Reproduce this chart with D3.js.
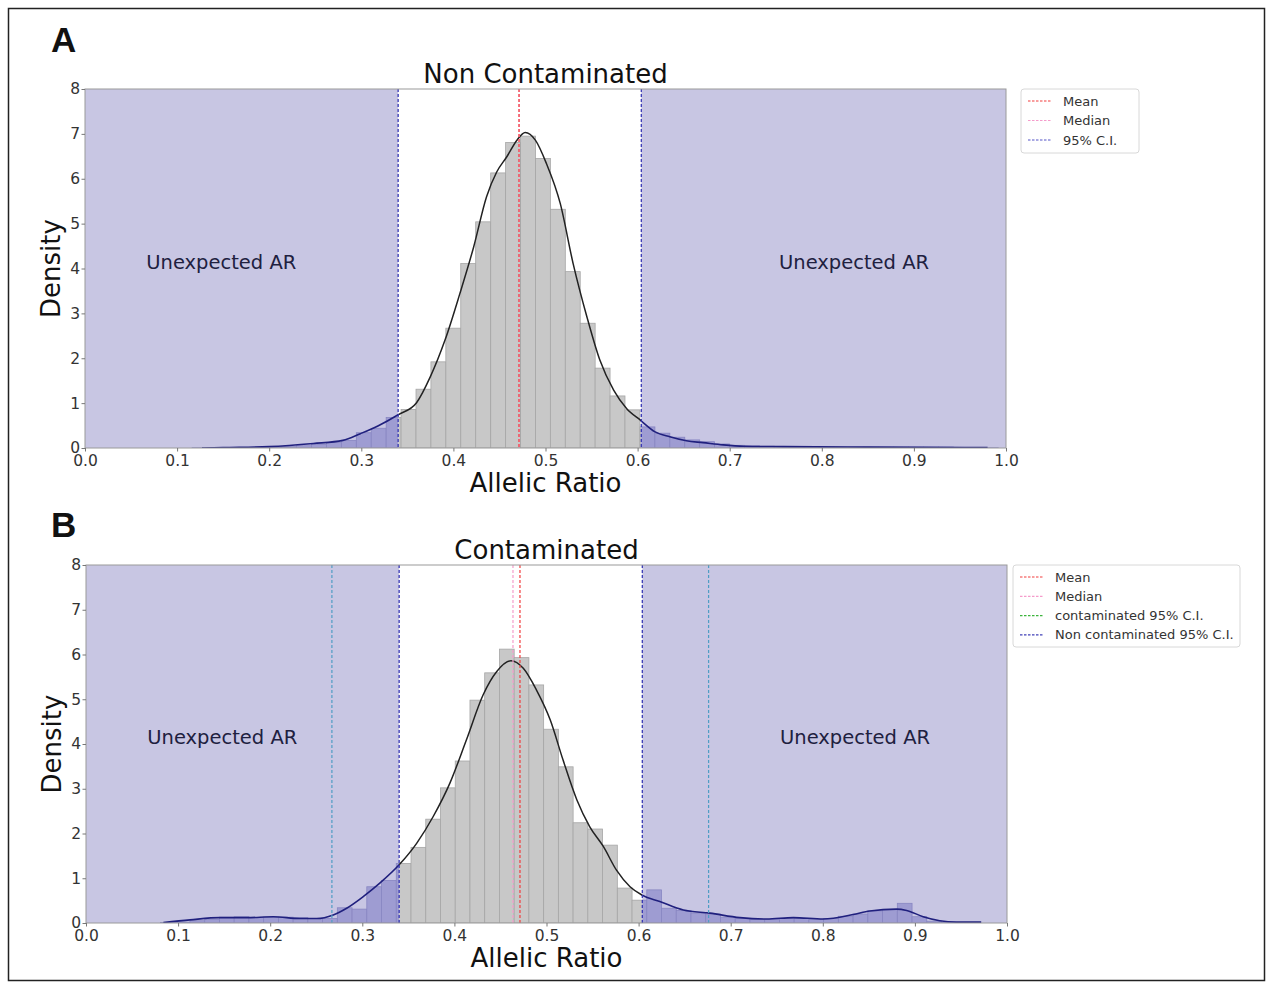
<!DOCTYPE html>
<html>
<head>
<meta charset="utf-8">
<script src="https://cdn.jsdelivr.net/npm/d3@7"></script>
<style>
  body { margin: 0; background: #fff; }
  text { font-family: "DejaVu Sans", sans-serif; }
</style>
</head>
<body>
<svg id="chart"></svg>
<script>
// ---- data ----
var xTicks = [0, 0.1, 0.2, 0.3, 0.4, 0.5, 0.6, 0.7, 0.8, 0.9, 1.0];
var yTicks = [0, 1, 2, 3, 4, 5, 6, 7, 8];

// panel A: non contaminated
var binWidthA = 0.0162;
var binLeftA = [0.1163, 0.1325, 0.1487, 0.1649, 0.1811, 0.1973, 0.2135, 0.2297, 0.2459, 0.2621,
  0.2784, 0.2946, 0.3108, 0.3270, 0.3432, 0.3594, 0.3756, 0.3918, 0.4080, 0.4242,
  0.4405, 0.4567, 0.4729, 0.4891, 0.5053, 0.5215, 0.5377, 0.5539, 0.5701, 0.5863,
  0.6026, 0.6188, 0.6350, 0.6512, 0.6674, 0.6836, 0.6998, 0.7160, 0.7322, 0.7484,
  0.7647, 0.7809, 0.7971, 0.8133, 0.8295, 0.8457, 0.8619, 0.8781, 0.8943, 0.9105,
  0.9268, 0.9430, 0.9592, 0.9754];
var binHeightA = [0.005, 0.008, 0.01, 0.01, 0.015, 0.02, 0.03, 0.05, 0.08, 0.12,
  0.17, 0.34, 0.44, 0.68, 0.86, 1.31, 1.92, 2.67, 4.11, 5.04,
  6.13, 6.81, 6.95, 6.45, 5.32, 3.93, 2.78, 1.78, 1.16, 0.85,
  0.47, 0.33, 0.24, 0.18, 0.14, 0.09, 0.06, 0.05, 0.04, 0.03,
  0.03, 0.03, 0.02, 0.02, 0.02, 0.02, 0.02, 0.02, 0.02, 0.02,
  0.02, 0.01, 0.01, 0.005];
var kdeXA = [0.127, 0.15, 0.2, 0.248, 0.28, 0.299, 0.318, 0.34, 0.36, 0.375, 0.391, 0.407, 0.422,
  0.436, 0.447, 0.458, 0.469, 0.478, 0.489, 0.501, 0.516, 0.53, 0.545, 0.559, 0.574, 0.588,
  0.603, 0.619, 0.635, 0.653, 0.671, 0.693, 0.715, 0.758, 0.85, 0.98];
var kdeYA = [0, 0.01, 0.03, 0.1, 0.17, 0.32, 0.49, 0.74, 1.01, 1.59, 2.41, 3.44, 4.48,
  5.6, 6.15, 6.49, 6.86, 7.03, 6.86, 6.34, 5.45, 4.11, 2.92, 1.96, 1.29, 0.88,
  0.62, 0.36, 0.25, 0.16, 0.12, 0.07, 0.04, 0.03, 0.02, 0.01];
var ciA = [0.34, 0.604];
var meanA = 0.4712;
var medianA = 0.4715;

// panel B: contaminated
var binWidthB = 0.016;
var binLeftB = [0.0809, 0.0969, 0.1129, 0.1289, 0.1449, 0.1609, 0.1769, 0.1929, 0.2089, 0.2249,
  0.2409, 0.2569, 0.2729, 0.2889, 0.3049, 0.3209, 0.3369, 0.3529, 0.3689, 0.3849,
  0.4009, 0.4169, 0.4329, 0.4489, 0.4649, 0.4809, 0.4969, 0.5129, 0.5289, 0.5449,
  0.5609, 0.5769, 0.5929, 0.6089, 0.6249, 0.6409, 0.6569, 0.6729, 0.6889, 0.7049,
  0.7209, 0.7369, 0.7529, 0.7689, 0.7849, 0.8009, 0.8169, 0.8329, 0.8489, 0.8649,
  0.8809, 0.8969, 0.9129, 0.9289];
var binHeightB = [0.01, 0.02, 0.05, 0.08, 0.13, 0.14, 0.12, 0.13, 0.13, 0.12,
  0.10, 0.10, 0.34, 0.31, 0.81, 0.95, 1.33, 1.69, 2.32, 3.02,
  3.62, 4.98, 5.59, 6.12, 5.93, 5.32, 4.33, 3.49, 2.24, 2.10,
  1.74, 0.78, 0.51, 0.74, 0.33, 0.28, 0.22, 0.20, 0.13, 0.10,
  0.08, 0.08, 0.10, 0.10, 0.08, 0.10, 0.15, 0.20, 0.27, 0.30,
  0.44, 0.14, 0.04, 0.01];
var kdeXB = [0.084, 0.113, 0.1455, 0.1745, 0.2034, 0.2323, 0.2505, 0.2685, 0.283, 0.301, 0.319,
  0.34, 0.359, 0.377, 0.395, 0.413, 0.431, 0.446, 0.4615, 0.4748, 0.489, 0.504, 0.518,
  0.533, 0.547, 0.5617, 0.576, 0.5907, 0.604, 0.623, 0.6486, 0.6775, 0.71, 0.739, 0.768,
  0.8006, 0.833, 0.851, 0.88, 0.891, 0.909, 0.927, 0.945, 0.972];
var kdeYB = [0.01, 0.07, 0.12, 0.12, 0.14, 0.10, 0.10, 0.18, 0.33, 0.59, 0.89,
  1.30, 1.78, 2.38, 3.12, 4.09, 5.09, 5.62, 5.86, 5.69, 5.21, 4.54, 3.64,
  2.75, 2.15, 1.71, 1.18, 0.81, 0.62, 0.48, 0.29, 0.22, 0.12, 0.09, 0.12,
  0.09, 0.19, 0.27, 0.31, 0.28, 0.14, 0.05, 0.02, 0.02];
var ciB = [0.34, 0.604];
var contCiB = [0.267, 0.676];
var meanB = 0.4712;
var medianB = 0.4636;

var legendA = ["Mean", "Median", "95% C.I."];
var legendB = ["Mean", "Median", "contaminated 95% C.I.", "Non contaminated 95% C.I."];

// ---- colours ----
var shadeColor = "#c8c6e3";
var barGray = "#c8c8c8", barGrayEdge = "#a6a6a6";
var barTail = "#9e9cd2", barTailEdge = "#8886c2";
var meanColor = "#f23c3c", medianColor = "#f59ccb", ciColor = "#2b2bb0";
var contColor = "#4f9dc4", contLegend = "#3cb43c";

var svg = d3.select("#chart").attr("width", 1271).attr("height", 985);
var defs = svg.append("defs");

// outer frame of the figure
svg.append("rect")
  .attr("x", 8.5).attr("y", 8.5).attr("width", 1256).attr("height", 972)
  .attr("fill", "none").attr("stroke", "#222").attr("stroke-width", 1.5);

function drawPanel(p) {
  var x = d3.scaleLinear().domain([0, 1]).range([p.left, p.right]);
  var y = d3.scaleLinear().domain([0, 8]).range([p.bottom, p.top]);
  var g = svg.append("g");

  // clip for the 95% interval and for the two tails
  defs.append("clipPath").attr("id", p.id + "-mid")
    .append("rect")
    .attr("x", x(p.ci[0])).attr("width", x(p.ci[1]) - x(p.ci[0]))
    .attr("y", p.top).attr("height", p.bottom - p.top);
  var tailClip = defs.append("clipPath").attr("id", p.id + "-tail");
  var tails = [[0, p.ci[0]], [p.ci[1], 1]];
  tails.forEach(function(t) {
    tailClip.append("rect")
      .attr("x", x(t[0])).attr("width", x(t[1]) - x(t[0]))
      .attr("y", p.top - 5).attr("height", p.bottom - p.top + 5);
  });

  // unexpected AR shading
  g.selectAll(".shade").data(tails).enter().append("rect")
    .attr("x", function(d) { return x(d[0]); })
    .attr("width", function(d) { return x(d[1]) - x(d[0]); })
    .attr("y", p.top).attr("height", p.bottom - p.top)
    .attr("fill", shadeColor);

  var bins = d3.zip(p.binLeft, p.binHeight);
  function drawBars(clip, fill, edge) {
    g.append("g").attr("clip-path", "url(#" + clip + ")")
      .selectAll("rect").data(bins).enter().append("rect")
      .attr("x", function(d) { return x(d[0]); })
      .attr("width", function(d) { return x(d[0] + p.binWidth) - x(d[0]); })
      .attr("y", function(d) { return y(d[1]); })
      .attr("height", function(d) { return y(0) - y(d[1]); })
      .attr("fill", fill).attr("stroke", edge).attr("stroke-width", 0.8);
  }
  drawBars(p.id + "-mid", barGray, barGrayEdge);
  drawBars(p.id + "-tail", barTail, barTailEdge);

  var line = d3.line()
    .x(function(d) { return x(d[0]); })
    .y(function(d) { return y(d[1]); })
    .curve(d3.curveMonotoneX);
  var kde = d3.zip(p.kdeX, p.kdeY);
  g.append("path").datum(kde).attr("clip-path", "url(#" + p.id + "-tail)")
    .attr("d", line).attr("fill", "none").attr("stroke", "#20207e").attr("stroke-width", 1.6);
  g.append("path").datum(kde).attr("clip-path", "url(#" + p.id + "-mid)")
    .attr("d", line).attr("fill", "none").attr("stroke", "#222").attr("stroke-width", 1.5);

  // vertical reference lines
  g.selectAll(".vline").data(p.vlines).enter().append("line")
    .attr("x1", function(d) { return x(d.v); }).attr("x2", function(d) { return x(d.v); })
    .attr("y1", p.top).attr("y2", p.bottom)
    .attr("stroke", function(d) { return d.color; })
    .attr("stroke-width", 1.2).attr("stroke-dasharray", "3,2");

  // frame
  g.append("rect")
    .attr("x", p.left).attr("y", p.top)
    .attr("width", p.right - p.left).attr("height", p.bottom - p.top)
    .attr("fill", "none").attr("stroke", "#9a9a9a").attr("stroke-width", 1);

  // axes
  var xAxis = g.append("g").attr("transform", "translate(0," + p.bottom + ")")
    .call(d3.axisBottom(x).tickValues(xTicks).tickFormat(d3.format(".1f"))
      .tickSize(3.5).tickSizeOuter(0).tickPadding(3.5));
  var yAxis = g.append("g").attr("transform", "translate(" + p.left + ",0)")
    .call(d3.axisLeft(y).tickValues(yTicks).tickFormat(d3.format("d"))
      .tickSize(3.5).tickSizeOuter(0).tickPadding(1.5));
  [xAxis, yAxis].forEach(function(a) {
    a.select(".domain").remove();
    a.selectAll("line").attr("stroke", "#777");
    a.selectAll("text").attr("fill", "#333").style("font-size", "15.5px")
      .style("font-family", "DejaVu Sans, sans-serif");
  });

  var cx = (p.left + p.right) / 2;
  g.append("text").attr("x", cx).attr("y", p.top - 6)
    .attr("text-anchor", "middle").attr("fill", "#111")
    .style("font-size", "26px").text(p.title);
  g.append("text").attr("x", cx).attr("y", p.bottom + 44)
    .attr("text-anchor", "middle").attr("fill", "#111")
    .style("font-size", "26px").text("Allelic Ratio");
  g.append("text").attr("transform", "translate(" + (p.left - 25) + "," + (p.top + p.bottom) / 2 + ") rotate(-90)")
    .attr("text-anchor", "middle").attr("fill", "#111")
    .style("font-size", "26px").text("Density");

  // panel letter
  svg.append("text").attr("x", 51).attr("y", p.letterY)
    .style("font-family", "Liberation Sans, Arial, sans-serif")
    .style("font-weight", "bold").style("font-size", "35px").attr("fill", "#111")
    .text(p.letter);

  // region annotations
  g.selectAll(".ann").data([0.148, 0.835]).enter().append("text")
    .attr("x", function(d) { return x(d); }).attr("y", y(4.15))
    .attr("dy", "0.36em").attr("text-anchor", "middle")
    .attr("fill", "#20203f").style("font-size", "19.5px")
    .text("Unexpected AR");

  // legend
  var lg = svg.append("g");
  lg.append("rect")
    .attr("x", p.legend.x).attr("y", p.legend.y)
    .attr("width", p.legend.w).attr("height", p.legend.h)
    .attr("rx", 3).attr("fill", "#fff").attr("stroke", "#d8d8d8");
  var items = lg.selectAll(".item").data(p.legendItems).enter().append("g")
    .attr("transform", function(d, i) {
      return "translate(" + (p.legend.x + 7) + "," + (p.legend.y + 12 + i * p.legend.step) + ")";
    });
  items.append("line").attr("x1", 0).attr("x2", 24)
    .attr("stroke", function(d) { return d.color; })
    .attr("stroke-width", 1.2).attr("stroke-dasharray", "2.5,1.5");
  items.append("text").attr("x", p.legend.textX).attr("dy", "0.35em")
    .attr("fill", "#333").style("font-size", "13px")
    .text(function(d) { return d.label; });
}

drawPanel({
  id: "a", letter: "A", letterY: 52, title: "Non Contaminated",
  left: 85, right: 1006, top: 89, bottom: 448,
  binLeft: binLeftA, binHeight: binHeightA, binWidth: binWidthA,
  kdeX: kdeXA, kdeY: kdeYA, ci: ciA,
  vlines: [
    { v: ciA[0], color: ciColor }, { v: ciA[1], color: ciColor },
    { v: medianA, color: medianColor }, { v: meanA, color: meanColor }
  ],
  legend: { x: 1021, y: 89, w: 118, h: 64, step: 19.5, textX: 35 },
  legendItems: [
    { label: legendA[0], color: meanColor },
    { label: legendA[1], color: medianColor },
    { label: legendA[2], color: "#5555c8" }
  ]
});

drawPanel({
  id: "b", letter: "B", letterY: 537, title: "Contaminated",
  left: 86, right: 1007, top: 565, bottom: 923,
  binLeft: binLeftB, binHeight: binHeightB, binWidth: binWidthB,
  kdeX: kdeXB, kdeY: kdeYB, ci: ciB,
  vlines: [
    { v: contCiB[0], color: contColor }, { v: contCiB[1], color: contColor },
    { v: ciB[0], color: ciColor }, { v: ciB[1], color: ciColor },
    { v: medianB, color: medianColor }, { v: meanB, color: meanColor }
  ],
  legend: { x: 1013, y: 565, w: 227, h: 82, step: 19.3, textX: 35 },
  legendItems: [
    { label: legendB[0], color: meanColor },
    { label: legendB[1], color: medianColor },
    { label: legendB[2], color: contLegend },
    { label: legendB[3], color: "#4040b8" }
  ]
});
</script>
</body>
</html>
